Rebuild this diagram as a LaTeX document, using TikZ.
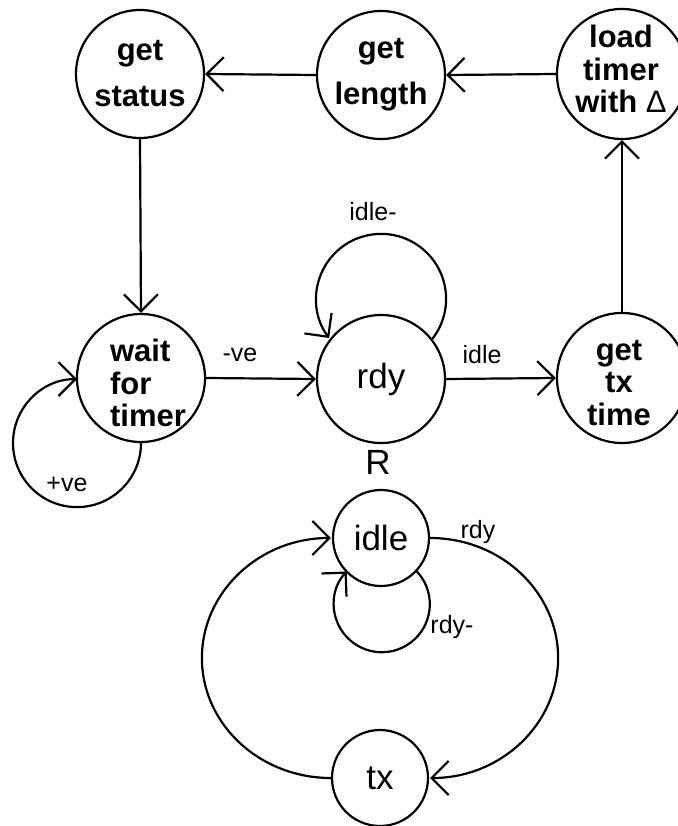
\documentclass[tikz,border=0pt]{standalone}
\usepackage{fontspec}
\setmainfont{Liberation Sans}
\usetikzlibrary{arrows.meta}
\begin{document}
\begin{tikzpicture}[x=1pt,y=-1pt,
  big/.style={circle,draw,line width=2.2pt,minimum size=128pt,inner sep=0pt,font=\fontsize{31}{32}\selectfont\bfseries,align=center},
  small/.style={circle,draw,line width=2.2pt,minimum size=96pt,inner sep=0pt,font=\fontsize{35}{40}\selectfont},
  lbl/.style={font=\fontsize{25}{30}\selectfont,inner sep=0pt},
  btxt/.style={font=\fontsize{31}{32.5}\selectfont\bfseries,align=center,inner sep=0pt},
  arr/.style={line width=2.2pt,-{Straight Barb[length=17pt,width=34pt]}}]
\useasboundingbox (0,0) rectangle (677,826);

\node[big] (gs) at (140,74) {get\\[14pt]status};
\node[big] (gl) at (381,75) {get\\[14pt]length};
\node[big,minimum size=130pt] (lt) at (622,74) {};
\node[btxt] (ltt) at (621,69) {load\\timer\\with {\mdseries Δ}};
\node[big] (wt) at (141,378) {};
\node[btxt,align=left] (wtt) at (148,383) {wait\\for\\timer};
\node[big,font=\fontsize{35}{40}\selectfont] (rdy) at (381,379) {rdy};
\node[big,minimum size=130pt] (gt) at (622,378) {};
\node[btxt] (gtt) at (619,383) {get\\tx\\time};
\node[small] (idle) at (381,538) {idle};
\node[small] (tx) at (380,778) {tx};
\node[font=\fontsize{35}{40}\selectfont,inner sep=0pt] (R) at (378,462) {R};

\draw[arr] (gl.west) -- (gs.east);
\draw[arr] (lt.west) -- (gl.east);
\draw[arr] (gs.south) -- (wt.north);
\draw[arr] (gt.north) -- (lt.south);
\draw[arr] (wt.east) -- (rdy.west);
\draw[arr] (rdy.east) -- (gt.west);

\draw[arr] (wt.south) arc[start angle=0,end angle=270,radius=64];
\draw[arr] (rdy.38) arc[start angle=38,end angle=-217,radius=65];
\draw[arr] (idle.-43) arc[start angle=-43,end angle=223,radius=48];
\draw[arr] (idle.east) arc[start angle=-90,end angle=90,x radius=128,y radius=120];
\draw[arr] (tx.west) arc[start angle=90,end angle=270,x radius=129,y radius=120];

\node[lbl] (l1) at (240,355) {-ve};
\node[lbl] (l2) at (67,484) {+ve};
\node[lbl] (l3) at (373,212) {idle-};
\node[lbl] (l4) at (482,355) {idle};
\node[lbl] (l5) at (478,532) {rdy};
\node[lbl] (l6) at (452,627) {rdy-};
\end{tikzpicture}
\end{document}
